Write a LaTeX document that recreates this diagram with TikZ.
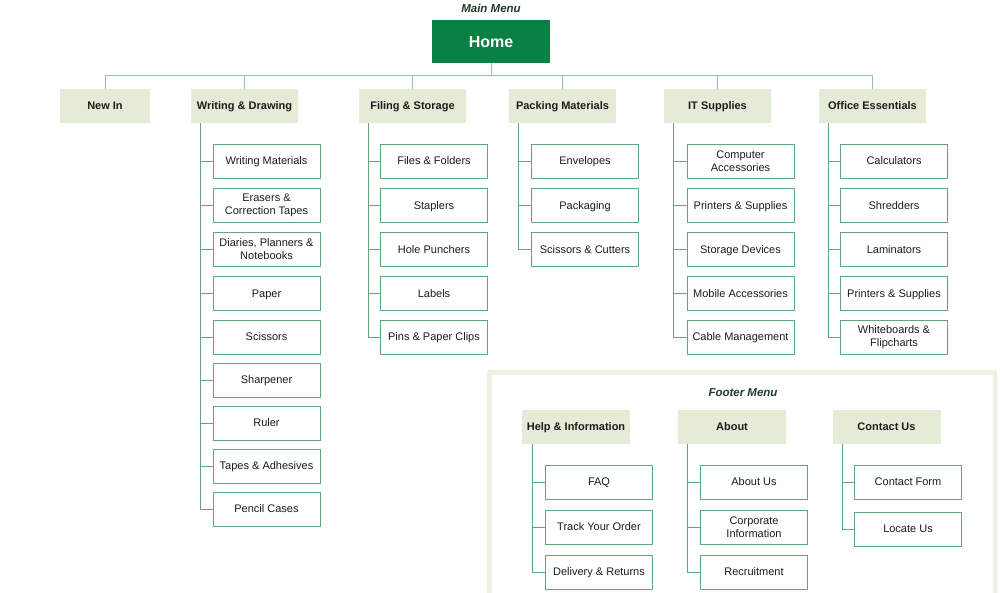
\documentclass[tikz,border=0pt]{standalone}
\usepackage{fontspec}
\setmainfont{Liberation Sans}
\definecolor{homeg}{HTML}{0A8044}
\definecolor{catfill}{HTML}{E4ECD7}
\definecolor{childc}{HTML}{5DAA80}
\definecolor{treec}{HTML}{93C2B4}
\definecolor{titlec}{HTML}{1E3B2A}
\definecolor{framec}{HTML}{EDF2E4}
\definecolor{txt}{HTML}{1C1C1C}
\tikzset{
  cat/.style={fill=catfill, minimum width=107pt, minimum height=34pt, inner sep=0pt, text depth=0pt, font=\fontsize{11}{12}\selectfont\bfseries, text=txt},
  child/.style={draw=childc, line width=0.9pt, fill=white, minimum width=107pt, minimum height=34pt, inner sep=0pt, align=center, font=\fontsize{11}{13}\selectfont, text=txt},
  one/.style={child, text depth=0pt},
  tree/.style={draw=treec, line width=0.9pt},
  branch/.style={draw=childc, line width=0.9pt},
  ttl/.style={font=\fontsize{11.5}{13}\selectfont\bfseries\itshape, text=titlec}
}
\begin{document}
\begin{tikzpicture}[x=1pt,y=-1pt]
\useasboundingbox (0,0) rectangle (1000,592);
\clip (0,0) rectangle (1000,592);
% titles
\node[ttl] (mm) at (491,8) {Main Menu};
\node[fill=homeg, minimum width=118pt, minimum height=43pt, inner sep=0pt, text depth=0pt, text=white, font=\fontsize{16}{18}\selectfont\bfseries] (home) at (491,41.5) {Home};
% categories
\node[cat, minimum width=90pt] (ni) at (105,106) {New In};
\node[cat] (wd) at (244.5,106) {Writing \& Drawing};
\node[cat] (fs) at (412.5,106) {Filing \& Storage};
\node[cat] (pm) at (562.5,106) {Packing Materials};
\node[cat] (it) at (717.5,106) {IT Supplies};
\node[cat] (oe) at (872.5,106) {Office Essentials};
% tree
\draw[tree] (home.south) -- ++(0,12) coordinate (j);
\foreach \c in {ni,wd,fs,pm,it,oe} \draw[tree] (\c.north) |- (j);
% Writing & Drawing children
\node[one] (wd1) at (266.5,161) {Writing Materials};
\node[child] (wd2) at (266.5,205.5) {Erasers \&\\Correction Tapes};
\node[child] (wd3) at (266.5,249.5) {Diaries, Planners \&\\Notebooks};
\node[one] (wd4) at (266.5,293.5) {Paper};
\node[one] (wd5) at (266.5,337) {Scissors};
\node[one] (wd6) at (266.5,380) {Sharpener};
\node[one] (wd7) at (266.5,423) {Ruler};
\node[one] (wd8) at (266.5,466) {Tapes \& Adhesives};
\node[one] (wd9) at (266.5,509) {Pencil Cases};
\foreach \i in {1,...,9} \draw[branch] ([xshift=10pt]wd.south west) |- (wd\i.west);
% Filing
\node[one] (fs1) at (434,161) {Files \& Folders};
\node[one] (fs2) at (434,205.5) {Staplers};
\node[one] (fs3) at (434,249.5) {Hole Punchers};
\node[one] (fs4) at (434,293.5) {Labels};
\node[one] (fs5) at (434,337) {Pins \& Paper Clips};
\foreach \i in {1,...,5} \draw[branch] ([xshift=10pt]fs.south west) |- (fs\i.west);
% Packing
\node[one] (pm1) at (585,161) {Envelopes};
\node[one] (pm2) at (585,205.5) {Packaging};
\node[one] (pm3) at (585,249.5) {Scissors \& Cutters};
\foreach \i in {1,...,3} \draw[branch] ([xshift=10pt]pm.south west) |- (pm\i.west);
% IT
\node[child] (it1) at (740.5,161) {Computer\\Accessories};
\node[one] (it2) at (740.5,205.5) {Printers \& Supplies};
\node[one] (it3) at (740.5,249.5) {Storage Devices};
\node[one] (it4) at (740.5,293.5) {Mobile Accessories};
\node[one] (it5) at (740.5,337) {Cable Management};
\foreach \i in {1,...,5} \draw[branch] ([xshift=10pt]it.south west) |- (it\i.west);
% Office
\node[one] (oe1) at (894,161) {Calculators};
\node[one] (oe2) at (894,205.5) {Shredders};
\node[one] (oe3) at (894,249.5) {Laminators};
\node[one] (oe4) at (894,293.5) {Printers \& Supplies};
\node[child] (oe5) at (894,337) {Whiteboards \&\\Flipcharts};
\foreach \i in {1,...,5} \draw[branch] ([xshift=10pt]oe.south west) |- (oe\i.west);
% Footer
\draw[draw=framec, line width=4.5pt] (489.5,372.5) rectangle (995,640);
\node[ttl] (fm) at (743,393) {Footer Menu};
\node[cat, minimum width=108pt] (hi) at (576,427) {Help \& Information};
\node[cat, minimum width=108pt] (ab) at (732,427) {About};
\node[cat, minimum width=108pt] (cu) at (886.5,427) {Contact Us};
\node[one] (hi1) at (599,482) {FAQ};
\node[one] (hi2) at (599,527) {Track Your Order};
\node[one] (hi3) at (599,572) {Delivery \& Returns};
\foreach \i in {1,...,3} \draw[branch] ([xshift=11pt]hi.south west) |- (hi\i.west);
\node[one] (ab1) at (754,482) {About Us};
\node[child] (ab2) at (754,527) {Corporate\\Information};
\node[one] (ab3) at (754,572) {Recruitment};
\foreach \i in {1,...,3} \draw[branch] ([xshift=10pt]ab.south west) |- (ab\i.west);
\node[one] (cu1) at (908,482) {Contact Form};
\node[one] (cu2) at (908,529) {Locate Us};
\foreach \i in {1,...,2} \draw[branch] ([xshift=10pt]cu.south west) |- (cu\i.west);
\end{tikzpicture}
\end{document}
